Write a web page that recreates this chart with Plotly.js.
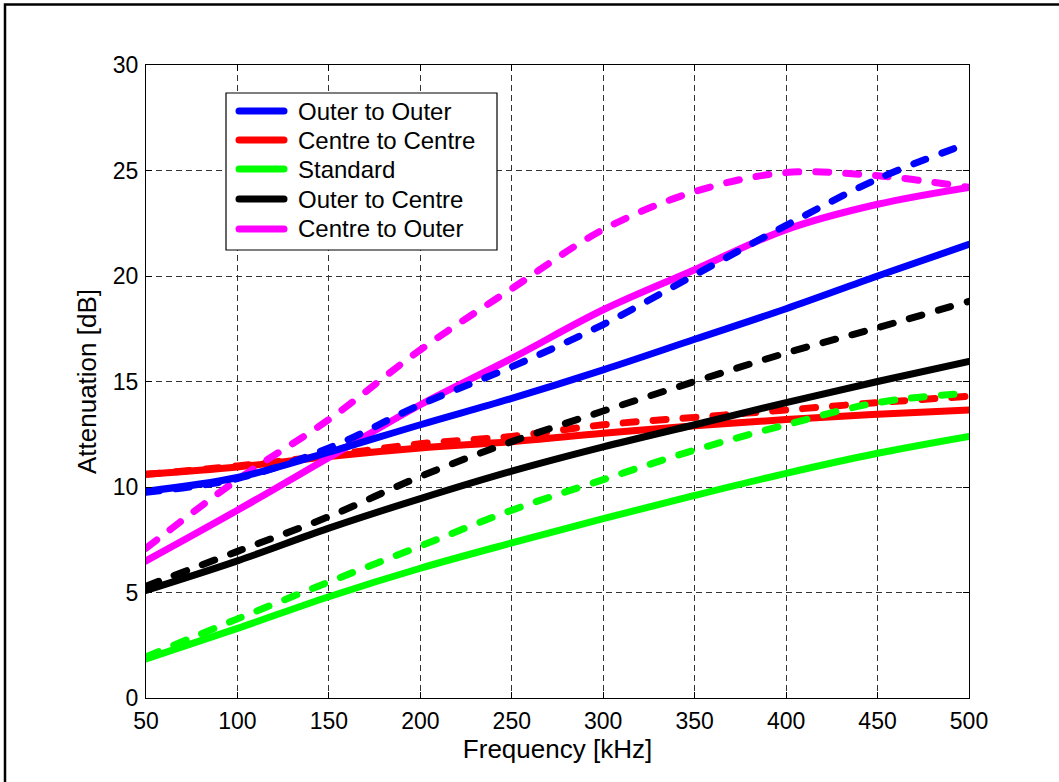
<!DOCTYPE html>
<html>
<head>
<meta charset="utf-8">
<script src="https://cdn.plot.ly/plotly-3.0.1.min.js"></script>
<style>
  html, body { margin: 0; padding: 0; background: #fff; }
  .scatterlayer path.js-line { stroke-linecap: round; stroke-linejoin: round; }
  .shapelayer path { stroke-linecap: round; }
</style>
</head>
<body>
<div id="chart" style="width:1059px;height:782px;"></div>
<script>
// Frequency axis (kHz)
const freq = [50, 100, 150, 200, 250, 300, 350, 400, 450, 500];

// Series names and colours
const seriesNames = ["Outer to Outer", "Centre to Centre", "Standard", "Outer to Centre", "Centre to Outer"];
const seriesColors = ["#0000ff", "#ff0000", "#00ff00", "#000000", "#ff00ff"];

// Solid curves (dB)
const outerOuterSolid   = [9.8, 10.45, 11.65, 12.95, 14.2, 15.55, 17.0, 18.45, 20.0, 21.5];
const centreCentreSolid = [10.6, 10.95, 11.45, 11.85, 12.15, 12.55, 12.9, 13.2, 13.45, 13.65];
const standardSolid     = [1.85, 3.3, 4.8, 6.15, 7.35, 8.5, 9.6, 10.65, 11.6, 12.4];
const outerCentreSolid  = [5.1, 6.5, 8.05, 9.45, 10.75, 11.9, 12.95, 14.0, 15.0, 15.95];
const centreOuterSolid  = [6.5, 8.9, 11.4, 13.9, 16.1, 18.4, 20.3, 22.2, 23.4, 24.2];

// Dashed curves (dB)
const outerOuterDashed   = [9.75, 10.4, 11.85, 13.9, 15.7, 17.7, 20.05, 22.4, 24.6, 26.3];
const centreCentreDashed = [10.6, 11.0, 11.5, 12.05, 12.4, 12.95, 13.3, 13.65, 14.0, 14.3];
const standardDashed     = [1.95, 3.75, 5.5, 7.2, 8.9, 10.35, 11.75, 12.95, 14.0, 14.45];
const outerCentreDashed  = [5.3, 6.95, 8.6, 10.5, 12.15, 13.6, 15.0, 16.35, 17.55, 18.8];
const centreOuterDashed  = [7.1, 10.35, 13.2, 16.5, 19.4, 22.2, 24.0, 24.9, 24.75, 24.2];

// Tick values
const xTicks = [50, 100, 150, 200, 250, 300, 350, 400, 450, 500];
const yTicks = [0, 5, 10, 15, 20, 25, 30];

const solidData  = [outerOuterSolid, centreCentreSolid, standardSolid, outerCentreSolid, centreOuterSolid];
const dashedData = [outerOuterDashed, centreCentreDashed, standardDashed, outerCentreDashed, centreOuterDashed];

function mk(idx, ys, dashed) {
  return {
    x: freq, y: ys, type: "scatter", mode: "lines",
    name: seriesNames[idx] + (dashed ? " (dashed)" : ""),
    showlegend: false, hoverinfo: "skip",
    line: { color: seriesColors[idx], width: 7, shape: "spline", smoothing: 1, dash: dashed ? "13px,17px" : "solid" }
  };
}

// draw order
const order = [[1,false],[1,true],[2,false],[3,false],[2,true],[3,true],[4,false],[4,true],[0,false],[0,true]];
const traces = order.map(([i, d]) => mk(i, d ? dashedData[i] : solidData[i], d));

const fam = "Arial, 'Liberation Sans', Helvetica, sans-serif";
const tickFont = { family: fam, size: 23, color: "#000" };
const titleFont = { family: fam, size: 26, color: "#000" };
const legendFont = { family: fam, size: 24, color: "#000" };

// Manual legend (MATLAB style)
const plotL = 146, plotR = 969, plotT = 65, plotB = 698;
const px2x = p => (p - plotL) / (plotR - plotL);
const px2y = p => (plotB - p) / (plotB - plotT);
const legRowsPx = [111, 140, 169, 199, 229];

const shapes = [
  { type: "rect", xref: "paper", yref: "paper", x0: px2x(226), x1: px2x(497), y0: px2y(250), y1: px2y(93),
    fillcolor: "#fff", line: { color: "#000", width: 1.2 }, layer: "above" }
];
const annotations = [];
legRowsPx.forEach((py, i) => {
  shapes.push({ type: "line", xref: "paper", yref: "paper", x0: px2x(239), x1: px2x(284), y0: px2y(py), y1: px2y(py),
    line: { color: seriesColors[i], width: 7 }, layer: "above" });
  annotations.push({ xref: "paper", yref: "paper", x: px2x(296), y: px2y(py), xanchor: "left", yanchor: "middle",
    text: seriesNames[i], showarrow: false, font: legendFont });
});
// outer figure frame (top and left edges visible)
shapes.push({ type: "path", xref: "paper", yref: "paper",
  path: `M ${px2x(5)} ${px2y(800)} L ${px2x(5)} ${px2y(4.5)} L ${px2x(1080)} ${px2y(4.5)}`,
  line: { color: "#000", width: 2.5 }, layer: "above" });

const axisCommon = {
  ticks: "inside", ticklen: 6, tickwidth: 1, tickcolor: "#000",
  showline: true, linecolor: "#000", linewidth: 1, mirror: "ticks",
  showgrid: true, gridcolor: "#333", gridwidth: 1, griddash: "6px,4px",
  zeroline: false, tickfont: tickFont, fixedrange: true
};

const layout = {
  width: 1059, height: 782,
  margin: { l: plotL, r: 1059 - plotR, t: plotT, b: 782 - plotB, pad: 0 },
  paper_bgcolor: "#fff", plot_bgcolor: "#fff",
  showlegend: false,
  font: tickFont,
  xaxis: Object.assign({}, axisCommon, {
    range: [50, 500], tickvals: xTicks, ticktext: xTicks.map(String), ticklabelstandoff: 2,
    title: { text: "Frequency [kHz]", font: titleFont, standoff: 2 }
  }),
  yaxis: Object.assign({}, axisCommon, {
    range: [0, 30], tickvals: yTicks, ticktext: yTicks.map(String), ticklabelstandoff: 2,
    title: { text: "Attenuation [dB]", font: titleFont, standoff: 8 }
  }),
  shapes: shapes,
  annotations: annotations
};

Plotly.newPlot("chart", traces, layout, { displayModeBar: false, staticPlot: true });
</script>
</body>
</html>
